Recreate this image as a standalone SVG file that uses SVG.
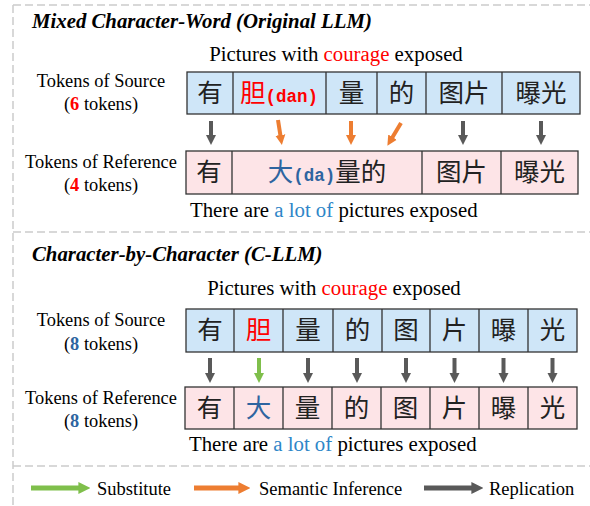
<svg xmlns="http://www.w3.org/2000/svg" width="590" height="506" viewBox="0 0 590 506">
<style>
.dash{stroke:#cccccc;stroke-width:1.5;stroke-dasharray:8,4;fill:none}
.title{font-family:"Liberation Serif",serif;font-weight:bold;font-style:italic;font-size:20.8px;fill:#000}
.sent{font-family:"Liberation Serif",serif;font-size:20.8px;fill:#000}
.lbl{font-family:"Liberation Serif",serif;font-size:18.4px;fill:#000;text-anchor:middle}
.leg{font-family:"Liberation Serif",serif;font-size:18.5px;fill:#000}
.src{fill:#cfe6f8;stroke:#333;stroke-width:1.3}
.ref{fill:#fde4e7;stroke:#333;stroke-width:1.3}
.div{stroke:#333;stroke-width:1.3}
.zh{font-family:"Noto Sans CJK SC","Noto Sans CJK JP",sans-serif;font-size:25.5px;fill:#222;text-anchor:middle}
.mono{font-family:"Liberation Mono",monospace;font-size:17.5px;font-weight:bold}
.red{fill:#ff0000}
.blue{fill:#2e64a0}
.lblue{fill:#2e86c8}
.gray{stroke:#595959;stroke-width:4;fill:none}
.orange{stroke:#ed7d31;stroke-width:4;fill:none}
.green{stroke:#7fbf4b;stroke-width:4;fill:none}
.lg{stroke-width:5}
</style>
<defs>
<marker id="hg" viewBox="0 0 10 10" refX="1" refY="5" markerWidth="10" markerHeight="12" markerUnits="userSpaceOnUse" orient="auto"><path d="M0,0 L10,5 L0,10 z" fill="#595959"/></marker>
<marker id="ho" viewBox="0 0 10 10" refX="1" refY="5" markerWidth="10" markerHeight="12" markerUnits="userSpaceOnUse" orient="auto"><path d="M0,0 L10,5 L0,10 z" fill="#ed7d31"/></marker>
<marker id="hgr" viewBox="0 0 10 10" refX="1" refY="5" markerWidth="10" markerHeight="12" markerUnits="userSpaceOnUse" orient="auto"><path d="M0,0 L10,5 L0,10 z" fill="#7fbf4b"/></marker>
<marker id="lg-g" viewBox="0 0 10 10" refX="0.5" refY="5" markerWidth="12" markerHeight="14" markerUnits="userSpaceOnUse" orient="auto"><path d="M0,0 L10,5 L0,10 z" fill="#595959"/></marker>
<marker id="lg-o" viewBox="0 0 10 10" refX="0.5" refY="5" markerWidth="12" markerHeight="14" markerUnits="userSpaceOnUse" orient="auto"><path d="M0,0 L10,5 L0,10 z" fill="#ed7d31"/></marker>
<marker id="lg-gr" viewBox="0 0 10 10" refX="0.5" refY="5" markerWidth="12" markerHeight="14" markerUnits="userSpaceOnUse" orient="auto"><path d="M0,0 L10,5 L0,10 z" fill="#7fbf4b"/></marker>
</defs>
<rect width="590" height="506" fill="#fff"/>
<g id="frame">
<path class="dash" d="M13,5 H590 M13,5 V506 M13,232 H590 M13,466 H590"/>
</g>

<g id="section1">
<text class="title" x="32" y="28">Mixed Character-Word (Original LLM)</text>
<text class="sent" x="336" y="61" text-anchor="middle">Pictures with <tspan class="red">courage</tspan> exposed</text>
<text class="lbl" x="101" y="87">Tokens of Source</text>
<text class="lbl" x="101" y="110">(<tspan class="red" font-weight="bold">6</tspan> tokens)</text>
<text class="lbl" x="101" y="168">Tokens of Reference</text>
<text class="lbl" x="101" y="191">(<tspan class="red" font-weight="bold">4</tspan> tokens)</text>
<text class="sent" x="190" y="217">There are <tspan class="lblue">a lot of</tspan> pictures exposed</text>
</g>

<g id="src1">
<rect class="src" x="187" y="72" width="393" height="42"/>
<path class="div" d="M233,72V114 M326,72V114 M377,72V114 M426,72V114 M502,72V114"/>
<text class="zh" x="210" y="102">有</text>
<text class="zh" x="279" y="102"><tspan class="red">胆</tspan><tspan class="mono red">(dan)</tspan></text>
<text class="zh" x="351.5" y="102">量</text>
<text class="zh" x="401.5" y="102">的</text>
<text class="zh" x="464" y="102">图片</text>
<text class="zh" x="541" y="102">曝光</text>
</g>

<g id="ref1">
<rect class="ref" x="186" y="151" width="392" height="43"/>
<path class="div" d="M232,151V194 M422,151V194 M501,151V194"/>
<text class="zh" x="209" y="181">有</text>
<text class="zh" x="327" y="181"><tspan class="blue">大</tspan><tspan class="mono blue">(da)</tspan>量的</text>
<text class="zh" x="461.5" y="181">图片</text>
<text class="zh" x="539.5" y="181">曝光</text>
</g>

<g id="connectors1">
<path class="gray" d="M211,121V136" marker-end="url(#hg)"/>
<path class="orange" d="M278,120L280.5,136" marker-end="url(#ho)"/>
<path class="orange" d="M351,121V136" marker-end="url(#ho)"/>
<path class="orange" d="M401,123L392,138" marker-end="url(#ho)"/>
<path class="gray" d="M463,121V136" marker-end="url(#hg)"/>
<path class="gray" d="M541,121V136" marker-end="url(#hg)"/>
</g>

<g id="section2">
<text class="title" x="32" y="261">Character-by-Character (C-LLM)</text>
<text class="sent" x="334" y="295" text-anchor="middle">Pictures with <tspan class="red">courage</tspan> exposed</text>
<text class="lbl" x="101" y="326">Tokens of Source</text>
<text class="lbl" x="101" y="350">(<tspan class="blue" font-weight="bold">8</tspan> tokens)</text>
<text class="lbl" x="101" y="404">Tokens of Reference</text>
<text class="lbl" x="101" y="427">(<tspan class="blue" font-weight="bold">8</tspan> tokens)</text>
<text class="sent" x="189" y="451">There are <tspan class="lblue">a lot of</tspan> pictures exposed</text>
</g>

<g id="src2">
<rect class="src" x="186" y="309" width="391" height="43"/>
<path class="div" d="M234,309V352 M283,309V352 M333,309V352 M382,309V352 M430,309V352 M479,309V352 M528,309V352"/>
<text class="zh" x="210" y="339">有</text>
<text class="zh red" x="258.5" y="339">胆</text>
<text class="zh" x="308" y="339">量</text>
<text class="zh" x="357.5" y="339">的</text>
<text class="zh" x="406" y="339">图</text>
<text class="zh" x="454.5" y="339">片</text>
<text class="zh" x="503.5" y="339">曝</text>
<text class="zh" x="552.5" y="339">光</text>
</g>

<g id="ref2">
<rect class="ref" x="185" y="387" width="392" height="42"/>
<path class="div" d="M234,387V429 M283,387V429 M332,387V429 M381,387V429 M430,387V429 M479,387V429 M528,387V429"/>
<text class="zh" x="209.5" y="417">有</text>
<text class="zh blue" x="258.5" y="417">大</text>
<text class="zh" x="307.5" y="417">量</text>
<text class="zh" x="356.5" y="417">的</text>
<text class="zh" x="405.5" y="417">图</text>
<text class="zh" x="454.5" y="417">片</text>
<text class="zh" x="503.5" y="417">曝</text>
<text class="zh" x="552.5" y="417">光</text>
</g>

<g id="connectors2">
<path class="gray" d="M210,358V374" marker-end="url(#hg)"/>
<path class="green" d="M259,358V374" marker-end="url(#hgr)"/>
<path class="gray" d="M308,358V374" marker-end="url(#hg)"/>
<path class="gray" d="M357,358V374" marker-end="url(#hg)"/>
<path class="gray" d="M406,358V374" marker-end="url(#hg)"/>
<path class="gray" d="M454.5,358V374" marker-end="url(#hg)"/>
<path class="gray" d="M503.5,358V374" marker-end="url(#hg)"/>
<path class="gray" d="M552.5,358V374" marker-end="url(#hg)"/>
</g>

<g id="legend">
<path class="green lg" d="M31,488H79" marker-end="url(#lg-gr)"/>
<text class="leg" x="97" y="495">Substitute</text>
<path class="orange lg" d="M194,488H239" marker-end="url(#lg-o)"/>
<text class="leg" x="259" y="495">Semantic Inference</text>
<path class="gray lg" d="M424,488H472" marker-end="url(#lg-g)"/>
<text class="leg" x="489" y="495">Replication</text>
</g>
</svg>
